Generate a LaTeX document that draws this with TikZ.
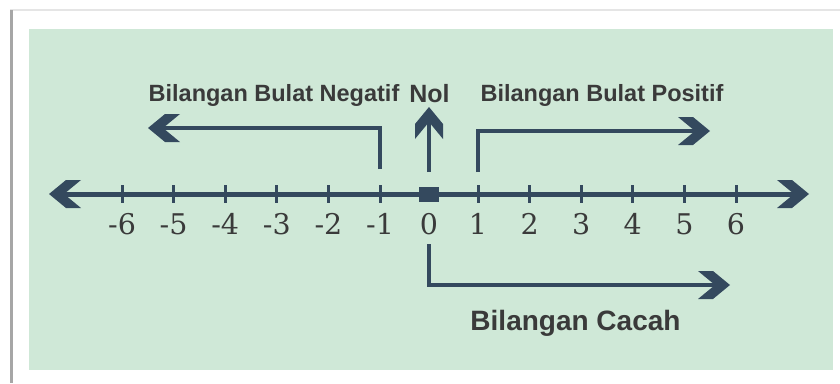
\documentclass[tikz,border=0pt]{standalone}
\usepackage{fontspec}
\setmainfont{Liberation Sans}
\newfontfamily\chiffres{DejaVu Serif}
\usetikzlibrary{arrows.meta}

\definecolor{ardoise}{HTML}{34495E}
\definecolor{menthe}{HTML}{CFE8D7}
\definecolor{encre}{HTML}{3A3A3A}

% pointe en chevron
\pgfdeclarearrow{
  name = Chevron,
  setup code = {
    \pgfarrowssettipend{0pt}
    \pgfarrowssetlineend{-12pt}
    \pgfarrowssetvisualbackend{-15pt}
    \pgfarrowssetbackend{-32pt}
  },
  drawing code = {
    \pgfpathmoveto{\pgfpoint{0pt}{0pt}}
    \pgfpathlineto{\pgfpoint{-17pt}{14pt}}
    \pgfpathlineto{\pgfpoint{-32pt}{14pt}}
    \pgfpathlineto{\pgfpoint{-15pt}{0pt}}
    \pgfpathlineto{\pgfpoint{-32pt}{-14pt}}
    \pgfpathlineto{\pgfpoint{-17pt}{-14pt}}
    \pgfpathclose
    \pgfusepathqfill
  }
}

\begin{document}
\begin{tikzpicture}[x=1pt,y=-1pt,>=Chevron]
    \tikzstyle{fleche}=[line width=4.5pt,ardoise,->]
    \tikzstyle{graduation}=[fill=ardoise,minimum width=3pt,minimum height=18pt,inner sep=0pt]
    \tikzstyle{zero}=[fill=ardoise,minimum width=20pt,minimum height=15pt,inner sep=0pt]
    \tikzstyle{nombre}=[anchor=base,inner sep=0pt,encre,font=\chiffres\fontsize{28.5}{32}\selectfont]
    \tikzstyle{titre}=[anchor=base,inner sep=0pt,encre,font=\bfseries\fontsize{23.5}{28}\selectfont]

\useasboundingbox (0,0) rectangle (840,383);

% Cadre et fond
\draw[black!10,line width=2pt] (10,10) -- (840,10);
\draw[black!35,line width=3pt] (11,10) -- (11,383);
\fill[menthe] (29,29) rectangle (833,370);

% Droite numerique
\coordinate (G) at (49,194);
\coordinate (D) at (809,194);
\draw[fleche,line width=5pt,<->] (G) -- (D);

\foreach \n/\x in {-6/122,-5/173.6,-4/225.2,-3/276.8,-2/328.4,-1/380,
                   1/478,2/529.6,3/581.2,4/632.8,5/684.4,6/736}{
  \node[graduation] (T\n) at (\x,194) {};
  \node[nombre] (N\n) at (\x,234) {\n};
}
\node[zero] (T0) at (429,194.5) {};
\node[nombre] (N0) at (429,234) {0};

% Fleches
\coordinate (A-1) at (380,169);
\coordinate (F-1) at (148,128);
\draw[fleche] (A-1) |- (F-1);

\coordinate (A0) at (429,172);
\coordinate (F0) at (429,107);
\draw[fleche] (A0) -- (F0);

\coordinate (A1) at (478,172);
\coordinate (F1) at (710,131);
\draw[fleche] (A1) |- (F1);

\coordinate (AC) at (429,244);
\coordinate (FC) at (730,285);
\draw[fleche] (AC) |- (FC);

% Textes
\node[titre] (negatif) at (274,101.7) {Bilangan Bulat Negatif};
\node[titre,font=\bfseries\fontsize{25}{28}\selectfont] (nol) at (429.5,102) {Nol};
\node[titre] (positif) at (602,101.7) {Bilangan Bulat Positif};
\node[titre,font=\bfseries\fontsize{28}{32}\selectfont] (cacah) at (575.5,330) {Bilangan Cacah};

\end{tikzpicture}
\end{document}
